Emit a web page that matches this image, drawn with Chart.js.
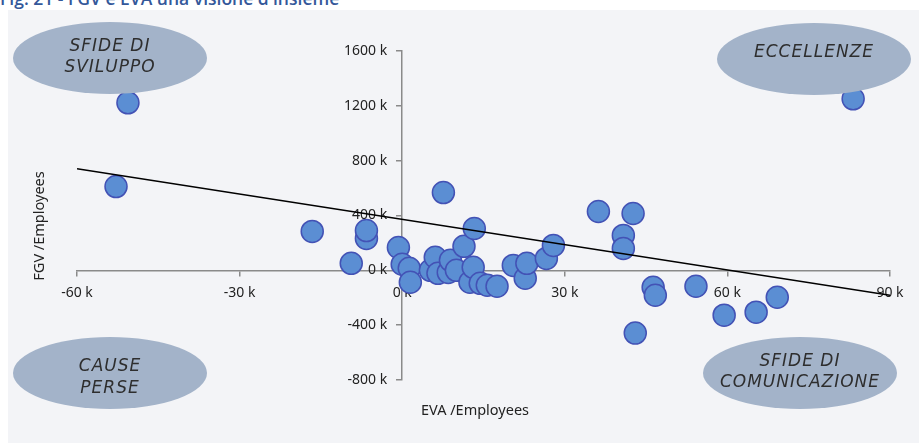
<!DOCTYPE html>
<html>
<head>
<meta charset="utf-8">
<script src="https://cdn.jsdelivr.net/npm/chart.js@4/dist/chart.umd.min.js"></script>
<style>
  html, body { margin: 0; padding: 0; background: #fff; overflow: hidden; }
  #wrap { position: relative; width: 919px; height: 443px; overflow: hidden; }
  #panel { position: absolute; left: 8px; top: 10px; right: 0; bottom: 0; background: #f3f4f7; }
  #fig-title { position: absolute; left: 0; top: -14px; line-height: 20px; font: 600 17.5px "Open Sans", sans-serif; color: #34589a; white-space: nowrap; }
  #chart { position: absolute; left: 0; top: 0; }
</style>
</head>
<body>
<div id="wrap">
  <div id="panel"></div>
  <div id="fig-title">Fig. 21 - FGV e EVA una visione d'insieme</div>
  <canvas id="chart" width="919" height="443"></canvas>
</div>
<script>
// EVA per employee (k) and FGV per employee (k), one entry per company
const evaPerEmployee = [-50.6, -52.8, -16.6, -9.4, -6.6, -6.6, -0.7, 0, 1.3, 1.5,
  5.2, 6.1, 6.6, 7.6, 8.5, 8.9, 10, 11.4, 12.5, 13.1,
  13.3, 14.4, 15.7, 17.5, 20.5, 22.7, 23, 26.6, 27.9, 36.2,
  40.8, 40.8, 42.6, 43, 46.3, 46.7, 54.2, 59.4, 65.3, 69.2, 83.2];
const fgvPerEmployee = [1222, 611, 284, 51, 233, 290, 167, 44, 15, -87,
  0, 95, -22, 567, -15, 73, 0, 175, -87, 22,
  305, -95, -109, -116, 36, -58, 51, 87, 182, 429,
  255, 160, 415, -458, -124, -182, -116, -327, -305, -196, 1251];

// linear trend, end points
const trendEva = [-60, 90];
const trendFgv = [742, -182];

const xTicks = [-60, -30, 0, 30, 60, 90];
const yTicks = [-800, -400, 0, 400, 800, 1200, 1600];

const quadrantNames = [['SFIDE DI', 'SVILUPPO'], ['ECCELLENZE'], ['CAUSE', 'PERSE'], ['SFIDE DI', 'COMUNICAZIONE']];

const points = evaPerEmployee.map((x, i) => ({ x: x, y: fgvPerEmployee[i] }));
const trend = trendEva.map((x, i) => ({ x: x, y: trendFgv[i] }));

const axisColor = '#8a8a8a';
const tickFont = { family: '"Noto Sans", sans-serif', size: 14 };

// bubbles drawn over the points, one per quadrant
const bubbles = [
  { cx: 110, cy: 58, lines: quadrantNames[0], ty: [47, 68] },
  { cx: 814, cy: 59, lines: quadrantNames[1], ty: [53] },
  { cx: 110, cy: 373, lines: quadrantNames[2], ty: [367, 389] },
  { cx: 800, cy: 373, lines: quadrantNames[3], ty: [362, 383] }
];

const overlay = {
  id: 'overlay',
  beforeDraw(chart) {
    // y axis sits inside the chart area: move its labels clear of the tick marks
    chart.scales.y.getLabelItems().forEach(item => { item.options.translation[0] -= 15; });
  },
  afterDatasetsDraw(chart) {
    const ctx = chart.ctx;
    ctx.save();
    bubbles.forEach(b => {
      ctx.beginPath();
      ctx.ellipse(b.cx, b.cy, 97, 36, 0, 0, Math.PI * 2);
      ctx.fillStyle = '#a3b3c9';
      ctx.fill();
      ctx.fillStyle = '#2e2e2e';
      ctx.font = 'italic 17px "DejaVu Sans", sans-serif';
      ctx.letterSpacing = '1px';
      ctx.textAlign = 'center';
      ctx.textBaseline = 'middle';
      b.lines.forEach((t, i) => ctx.fillText(t, b.cx, b.ty[i]));
    });
    ctx.letterSpacing = '0px';
    ctx.fillStyle = '#222';
    ctx.font = '14.5px "Noto Sans", sans-serif';
    ctx.textAlign = 'center';
    ctx.textBaseline = 'middle';
    ctx.fillText('EVA /Employees', 475, 411);
    ctx.translate(40, 226);
    ctx.rotate(-Math.PI / 2);
    ctx.fillText('FGV /Employees', 0, 0);
    ctx.restore();
  }
};

new Chart(document.getElementById('chart'), {
  type: 'scatter',
  data: {
    datasets: [
      {
        data: trend,
        showLine: true,
        borderColor: '#000',
        borderWidth: 1.5,
        pointRadius: 0,
        fill: false
      },
      {
        data: points,
        pointRadius: 11,
        pointBackgroundColor: '#5b8ed3',
        pointBorderColor: '#4352b5',
        pointBorderWidth: 1.5
      }
    ]
  },
  options: {
    responsive: false,
    animation: false,
    devicePixelRatio: 1,
    layout: { padding: { left: 77, right: 29, top: 51, bottom: 63 } },
    plugins: { legend: { display: false }, tooltip: { enabled: false } },
    scales: {
      x: {
        type: 'linear',
        position: { y: 0 },
        min: -60, max: 90,
        afterBuildTicks: s => { s.ticks = xTicks.map(v => ({ value: v })); },
        ticks: { callback: v => v + ' k', font: tickFont, color: '#222', padding: 9, maxRotation: 0, autoSkip: false },
        grid: { drawOnChartArea: false, drawTicks: true, tickLength: 5, color: axisColor, lineWidth: 1.5 },
        border: { color: axisColor, width: 1.5 }
      },
      y: {
        type: 'linear',
        position: { x: 0 },
        min: -800, max: 1600,
        afterBuildTicks: s => { s.ticks = yTicks.map(v => ({ value: v })); },
        ticks: { callback: v => v + ' k', font: tickFont, color: '#222', autoSkip: false },
        grid: { drawOnChartArea: false, drawTicks: true, tickLength: 5, color: axisColor, lineWidth: 1.5 },
        border: { color: axisColor, width: 1.5 }
      }
    }
  },
  plugins: [overlay]
});
</script>
</body>
</html>
